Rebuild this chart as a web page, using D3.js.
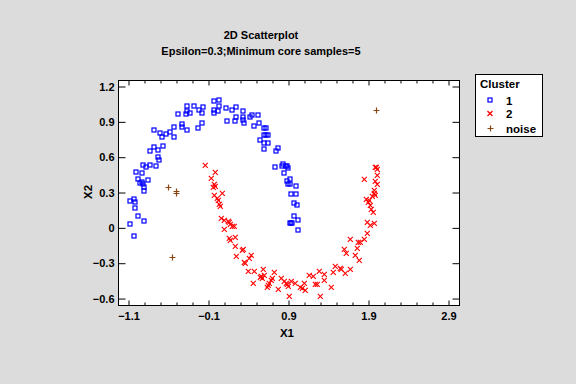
<!DOCTYPE html>
<html>
<head>
<meta charset="utf-8">
<script src="https://cdn.jsdelivr.net/npm/d3@7"></script>
<style>
  body { margin: 0; background: #dcdcdc; }
  svg text { font-family: Arial, "Liberation Sans", sans-serif; font-weight: bold; fill: #000; }
</style>
</head>
<body>
<svg id="chart" width="576" height="384"></svg>
<script>
// cluster 1 (blue squares)
const cluster1 = [
  [0.04,1.08],[-0.02,1.07],[0.04,1.03],[-0.02,1.0],[-0.02,0.975],[0.03,0.985],
  [-0.36,1.03],[-0.275,1.03],[-0.36,0.99],[-0.33,0.967],[-0.375,0.96],[-0.21,0.993],
  [-0.16,1.02],[-0.17,0.967],[-0.47,0.96],[-0.17,0.89],[-0.22,0.84],[-0.36,0.83],
  [-0.43,0.88],[-0.43,0.855],[-0.53,0.855],[-0.58,0.806],[-0.53,0.764],[-0.62,0.79],
  [-0.70,0.80],[-0.67,0.764],[-0.77,0.823],[-0.66,0.688],[-0.78,0.68],[-0.72,0.654],
  [-0.82,0.645],[-0.73,0.594],[-0.71,0.569],[-0.75,0.518],[-0.83,0.526],[-0.91,0.526],
  [-0.88,0.509],[-1.0,0.467],[-0.93,0.458],[-0.98,0.407],[-0.85,0.40],[-0.92,0.382],
  [-0.95,0.373],[-0.91,0.365],[-0.90,0.34],[-0.90,0.305],
  [-1.07,0.227],[-1.02,0.238],[-1.01,0.212],[-1.01,0.161],[-0.98,0.10],[-1.07,0.025],
  [-0.90,0.05],[-1.02,-0.076],
  [0.13,1.01],[0.20,1.0],[0.25,1.02],[0.34,0.985],[0.25,0.94],[0.34,0.934],[0.34,0.908],
  [0.355,0.89],[0.24,0.90],[0.14,0.90],[0.43,0.934],[0.455,0.95],[0.53,0.95],[0.54,0.883],
  [0.48,0.857],[0.60,0.84],[0.63,0.84],[0.60,0.78],[0.625,0.78],[0.65,0.78],[0.555,0.738],
  [0.60,0.72],[0.65,0.713],[0.60,0.662],[0.75,0.65],[0.77,0.67],[0.74,0.509],[0.82,0.52],
  [0.84,0.535],[0.87,0.52],[0.89,0.52],[0.90,0.50],[0.85,0.458],[0.92,0.41],[0.89,0.39],
  [0.92,0.37],[0.90,0.365],[1.0,0.348],[0.94,0.28],[1.0,0.28],[0.98,0.204],[1.01,0.187],
  [0.97,0.093],[1.02,0.06],[0.92,0.034],[0.94,0.034],[0.95,0.034],[1.03,-0.025]
];

// cluster 2 (red crosses)
const cluster2 = [
  [-0.134,0.526],[-0.009,0.467],[-0.059,0.416],[-0.021,0.365],[-0.034,0.340],[-0.009,0.348],
  [0.079,0.289],[-0.021,0.272],[0.016,0.246],[0.029,0.229],[0.041,0.195],[0.054,0.178],
  [0.066,0.076],[0.104,0.059],[0.166,0.042],[0.154,0.051],[0.179,0.025],[0.204,0.008],
  [0.229,0.008],[0.104,-0.017],[0.166,-0.093],[0.179,-0.110],[0.241,-0.085],[0.241,-0.161],
  [0.341,-0.187],[0.329,-0.195],[0.254,-0.246],[0.441,-0.238],[0.416,-0.263],[0.354,-0.297],
  [0.366,-0.306],[0.404,-0.374],[0.479,-0.374],[0.591,-0.357],[0.566,-0.416],[0.604,-0.407],
  [0.554,-0.424],[0.579,-0.433],[0.466,-0.475],[0.729,-0.382],[0.704,-0.433],[0.691,-0.450],
  [0.666,-0.475],[0.654,-0.492],[0.641,-0.509],[0.779,-0.526],[0.816,-0.433],[0.879,-0.475],
  [0.854,-0.458],[0.891,-0.484],[0.904,-0.501],[0.916,-0.586],[0.941,-0.458],[0.991,-0.475],
  [1.054,-0.509],[1.079,-0.518],[1.104,-0.475],[1.116,-0.535],[1.166,-0.407],[1.216,-0.416],
  [1.241,-0.484],[1.266,-0.484],[1.291,-0.374],[1.304,-0.586],[1.354,-0.399],[1.354,-0.450],
  [1.441,-0.509],[1.466,-0.382],[1.491,-0.331],[1.554,-0.348],[1.566,-0.357],[1.616,-0.390],
  [1.679,-0.357],[1.604,-0.187],[1.629,-0.221],[1.679,-0.102],[1.741,-0.238],[1.791,-0.280],
  [1.766,-0.178],[1.779,-0.127],[1.804,-0.127],[1.854,-0.102],[1.891,-0.051],[1.891,0.042],
  [1.929,0.017],[1.979,0.034],[1.966,0.127],[1.941,0.153],[1.929,0.187],[1.904,0.212],
  [1.879,0.238],[1.916,0.229],[1.979,0.289],[1.991,0.272],[1.954,0.263],[1.979,0.314],
  [1.991,0.390],[2.016,0.365],[1.854,0.407],[2.016,0.441],[1.991,0.509],[2.016,0.492],
  [2.004,0.509]
];

// noise (brown plus)
const noise = [[-0.6,0.34],[-0.5,0.31],[-0.5,0.295],[-0.55,-0.255],[2.0,1.0]];

const xTicks = [-1.1, -0.1, 0.9, 1.9, 2.9];
const xMinor = [-0.9, -0.7, -0.5, -0.3, 0.1, 0.3, 0.5, 0.7, 1.1, 1.3, 1.5, 1.7, 2.1, 2.3, 2.5, 2.7];
const yTicks = [-0.6, -0.3, 0, 0.3, 0.6, 0.9, 1.2];
const legendLabels = ["1", "2", "noise"];

const svg = d3.select("#chart");
const margin = {top: 80, right: 117, bottom: 79, left: 118};
const width = +svg.attr("width"), height = +svg.attr("height");
const plotR = width - margin.right, plotB = height - margin.bottom;

const x = d3.scaleLinear().domain([-1.225, 3.0375]).range([margin.left, plotR]);
const y = d3.scaleLinear().domain([-0.659, 1.251]).range([plotB, margin.top]);

svg.append("rect")
  .attr("x", margin.left + 0.5).attr("y", margin.top + 0.5)
  .attr("width", plotR - margin.left).attr("height", plotB - margin.top)
  .attr("fill", "#fff").attr("stroke", "#000");

const fmt = d3.format(".1f");
const fixAxis = g => g.call(g => g.select(".domain").remove())
  .call(g => g.selectAll("line").attr("stroke", "#000"))
  .call(g => g.selectAll("text").style("font-size", "11px").attr("fill", "#000"));

// bottom
svg.append("g").attr("transform", `translate(0.5,${plotB + 0.5})`)
  .call(d3.axisBottom(x).tickValues(xTicks).tickSize(-5).tickPadding(7).tickFormat(fmt)).call(fixAxis);
svg.append("g").attr("transform", `translate(0.5,${plotB + 0.5})`)
  .call(d3.axisBottom(x).tickValues(xMinor).tickSize(-3).tickFormat("")).call(fixAxis);
// top
svg.append("g").attr("transform", `translate(0.5,${margin.top + 0.5})`)
  .call(d3.axisTop(x).tickValues(xTicks).tickSize(-5).tickFormat("")).call(fixAxis);
svg.append("g").attr("transform", `translate(0.5,${margin.top + 0.5})`)
  .call(d3.axisTop(x).tickValues(xMinor).tickSize(-3).tickFormat("")).call(fixAxis);
// left
svg.append("g").attr("transform", `translate(${margin.left + 0.5},0.5)`)
  .call(d3.axisLeft(y).tickValues(yTicks).tickSize(-7).tickPadding(4).tickFormat(d => d === 0 ? "0" : fmt(d))).call(fixAxis);
// right
svg.append("g").attr("transform", `translate(${plotR + 0.5},0.5)`)
  .call(d3.axisRight(y).tickValues(yTicks).tickSize(-7).tickFormat("")).call(fixAxis);

// markers
const sq = 2.5;
svg.append("g").selectAll("rect").data(cluster1).join("rect")
  .attr("x", d => Math.round(x(d[0])) - sq + 0.5)
  .attr("y", d => Math.round(y(d[1])) - sq + 0.5)
  .attr("width", 2 * sq - 1).attr("height", 2 * sq - 1)
  .attr("fill", "none").attr("stroke", "#0000ff").attr("stroke-width", 1.2);

const cross = (px, py, r) => `M${px - r},${py - r}L${px + r},${py + r}M${px - r},${py + r}L${px + r},${py - r}`;
const plus = (px, py, r) => `M${px - r},${py}L${px + r},${py}M${px},${py - r}L${px},${py + r}`;

svg.append("g").selectAll("path").data(cluster2).join("path")
  .attr("d", d => cross(x(d[0]), y(d[1]), 2.5))
  .attr("stroke", "#ff0000").attr("stroke-width", 1.1).attr("fill", "none");

svg.append("g").selectAll("path").data(noise).join("path")
  .attr("d", d => plus(Math.round(x(d[0])) + 0.5, Math.round(y(d[1])) + 0.5, 3))
  .attr("stroke", "#8b4513").attr("stroke-width", 1.2).attr("fill", "none");

// titles
svg.append("text").attr("x", 261).attr("y", 39).attr("text-anchor", "middle")
  .style("font-size", "11px").text("2D Scatterplot");
svg.append("text").attr("x", 261).attr("y", 55).attr("text-anchor", "middle")
  .style("font-size", "11px").text("Epsilon=0.3;Minimum core samples=5");
svg.append("text").attr("x", 287).attr("y", 337).attr("text-anchor", "middle")
  .style("font-size", "11.5px").text("X1");
svg.append("text").attr("transform", "translate(92,192) rotate(-90)").attr("text-anchor", "middle")
  .style("font-size", "11.5px").text("X2");

// legend
const lg = svg.append("g");
lg.append("rect").attr("x", 475.5).attr("y", 74.5).attr("width", 67).attr("height", 62)
  .attr("fill", "#fff").attr("stroke", "#000");
lg.append("text").attr("x", 480).attr("y", 88).style("font-size", "11.5px").text("Cluster");
const rows = [100, 113.5, 128];
legendLabels.forEach((lab, i) => {
  const cy = rows[i];
  if (i === 0) {
    lg.append("rect").attr("x", 488).attr("y", cy - 2).attr("width", 4).attr("height", 4)
      .attr("fill", "none").attr("stroke", "#0000ff").attr("stroke-width", 1.2);
  } else if (i === 1) {
    lg.append("path").attr("d", cross(490, cy, 2.5)).attr("stroke", "#ff0000").attr("stroke-width", 1.3).attr("fill", "none");
  } else {
    lg.append("path").attr("d", plus(490.5, cy + 0.5, 3)).attr("stroke", "#8b4513").attr("stroke-width", 1.2).attr("fill", "none");
  }
  lg.append("text").attr("x", 506).attr("y", cy + 4.5).style("font-size", "11.5px").text(lab);
});
</script>
</body>
</html>
